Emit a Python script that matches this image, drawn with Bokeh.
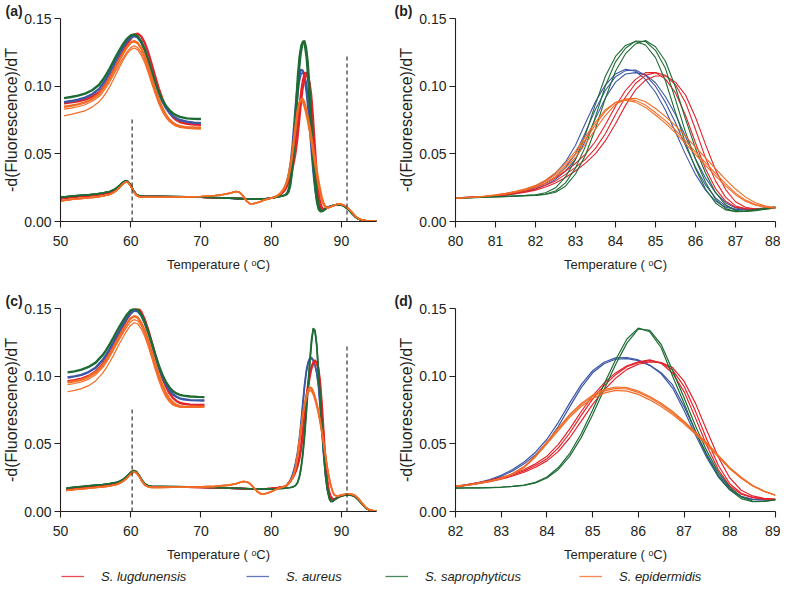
from bokeh.plotting import figure
from bokeh.models import Range1d, FixedTicker, NumeralTickFormatter, Legend, LegendItem
from bokeh.layouts import column, row
from bokeh.embed import file_html
from bokeh.resources import INLINE

FONT = "Liberation Sans"
INK = "#231f20"

species = ["S. lugdunensis", "S. aureus", "S. saprophyticus", "S. epidermidis"]
colors = ["#e3232b", "#3d57a7", "#1e6b35", "#f26c26"]

# ---------------- panel (b): 80-88 C, three replicates per species ----------------
b_T = [80.0, 80.25, 80.5, 80.75, 81.0, 81.25, 81.5, 81.75, 82.0, 82.25, 82.5, 82.75,
       83.0, 83.25, 83.5, 83.75, 84.0, 84.25, 84.5, 84.75, 85.0, 85.25, 85.5, 85.75,
       86.0, 86.25, 86.5, 86.75, 87.0, 87.25, 87.5, 87.75, 88.0]
b_lug_1 = [0.0174, 0.0178, 0.0182, 0.0187, 0.0194, 0.0204, 0.0217, 0.0232, 0.0253, 0.0283, 0.0323, 0.0373,
           0.0429, 0.0498, 0.0593, 0.0717, 0.0852, 0.0968, 0.1050, 0.1100, 0.1100, 0.1052, 0.0950, 0.0785,
           0.0580, 0.0390, 0.0243, 0.0150, 0.0106, 0.0093, 0.0092, 0.0098, 0.0104]
b_lug_2 = [0.0173, 0.0176, 0.0180, 0.0185, 0.0190, 0.0199, 0.0210, 0.0224, 0.0240, 0.0268, 0.0300, 0.0348,
           0.0400, 0.0460, 0.0540, 0.0650, 0.0790, 0.0920, 0.1020, 0.1080, 0.1100, 0.1080, 0.1010, 0.0880,
           0.0680, 0.0470, 0.0300, 0.0180, 0.0115, 0.0095, 0.0090, 0.0095, 0.0102]
b_lug_3 = [0.0173, 0.0175, 0.0178, 0.0183, 0.0188, 0.0195, 0.0205, 0.0217, 0.0232, 0.0255, 0.0285, 0.0325,
           0.0375, 0.0431, 0.0502, 0.0597, 0.0723, 0.0858, 0.0972, 0.1045, 0.1075, 0.1075, 0.1030, 0.0935,
           0.0770, 0.0570, 0.0380, 0.0238, 0.0146, 0.0105, 0.0092, 0.0093, 0.0099]
b_aur_1 = [0.0174, 0.0178, 0.0182, 0.0187, 0.0193, 0.0203, 0.0216, 0.0236, 0.0263, 0.0301, 0.0358, 0.0440,
           0.0564, 0.0728, 0.0886, 0.1010, 0.1090, 0.1125, 0.1110, 0.1050, 0.0955, 0.0822, 0.0662, 0.0496,
           0.0348, 0.0232, 0.0151, 0.0105, 0.0089, 0.0088, 0.0093, 0.0100, 0.0106]
b_aur_2 = [0.0173, 0.0176, 0.0180, 0.0185, 0.0190, 0.0198, 0.0210, 0.0226, 0.0250, 0.0282, 0.0330, 0.0400,
           0.0500, 0.0660, 0.0830, 0.0970, 0.1070, 0.1115, 0.1120, 0.1080, 0.1000, 0.0880, 0.0730, 0.0560,
           0.0400, 0.0270, 0.0175, 0.0115, 0.0090, 0.0087, 0.0090, 0.0097, 0.0104]
b_aur_3 = [0.0173, 0.0175, 0.0178, 0.0183, 0.0188, 0.0195, 0.0205, 0.0220, 0.0240, 0.0269, 0.0311, 0.0372,
           0.0460, 0.0596, 0.0762, 0.0914, 0.1030, 0.1090, 0.1100, 0.1085, 0.1025, 0.0922, 0.0790, 0.0628,
           0.0464, 0.0322, 0.0213, 0.0139, 0.0100, 0.0088, 0.0089, 0.0094, 0.0101]
b_sap_1 = [0.0174, 0.0176, 0.0178, 0.0181, 0.0184, 0.0186, 0.0189, 0.0193, 0.0198, 0.0212, 0.0249, 0.0329,
           0.0459, 0.0643, 0.0867, 0.1075, 0.1220, 0.1301, 0.1330, 0.1304, 0.1211, 0.1038, 0.0804, 0.0580,
           0.0392, 0.0240, 0.0137, 0.0086, 0.0074, 0.0079, 0.0088, 0.0099, 0.0108]
b_sap_2 = [0.0173, 0.0175, 0.0177, 0.0180, 0.0183, 0.0185, 0.0188, 0.0191, 0.0195, 0.0203, 0.0225, 0.0285,
           0.0395, 0.0555, 0.0775, 0.1005, 0.1180, 0.1280, 0.1333, 0.1330, 0.1265, 0.1130, 0.0900, 0.0660,
           0.0460, 0.0290, 0.0165, 0.0095, 0.0073, 0.0075, 0.0084, 0.0095, 0.0105]
b_sap_3 = [0.0173, 0.0174, 0.0176, 0.0179, 0.0182, 0.0184, 0.0187, 0.0190, 0.0193, 0.0200, 0.0216, 0.0261,
           0.0351, 0.0491, 0.0687, 0.0913, 0.1110, 0.1240, 0.1312, 0.1338, 0.1291, 0.1184, 0.0992, 0.0756,
           0.0540, 0.0358, 0.0215, 0.0123, 0.0082, 0.0074, 0.0080, 0.0091, 0.0101]
b_epi_1 = [0.0173, 0.0176, 0.0180, 0.0187, 0.0195, 0.0206, 0.0220, 0.0237, 0.0260, 0.0295, 0.0345, 0.0415,
           0.0500, 0.0605, 0.0715, 0.0815, 0.0880, 0.0905, 0.0895, 0.0860, 0.0805, 0.0745, 0.0675, 0.0595,
           0.0515, 0.0435, 0.0355, 0.0280, 0.0210, 0.0158, 0.0125, 0.0108, 0.0100]
b_epi_2 = [0.0173, 0.0175, 0.0179, 0.0185, 0.0192, 0.0202, 0.0216, 0.0232, 0.0253, 0.0284, 0.0329, 0.0393,
           0.0473, 0.0573, 0.0683, 0.0785, 0.0865, 0.0905, 0.0910, 0.0885, 0.0835, 0.0775, 0.0708, 0.0630,
           0.0550, 0.0470, 0.0390, 0.0312, 0.0240, 0.0180, 0.0138, 0.0114, 0.0103]
b_epi_3 = [0.0174, 0.0177, 0.0181, 0.0189, 0.0197, 0.0209, 0.0223, 0.0242, 0.0267, 0.0305, 0.0359, 0.0432,
           0.0521, 0.0627, 0.0735, 0.0826, 0.0880, 0.0897, 0.0882, 0.0843, 0.0787, 0.0725, 0.0655, 0.0575,
           0.0495, 0.0415, 0.0337, 0.0263, 0.0198, 0.0150, 0.0121, 0.0106, 0.0099]

# ---------------- panel (d): 82-89 C ----------------
d_T = [82.0, 82.25, 82.5, 82.75, 83.0, 83.25, 83.5, 83.75, 84.0, 84.25, 84.5, 84.75, 85.0, 85.25, 85.5,
       85.75, 86.0, 86.25, 86.5, 86.75, 87.0, 87.25, 87.5, 87.75, 88.0, 88.25, 88.5, 88.75, 89.0]
d_lug_1 = [0.0185, 0.0195, 0.0210, 0.0225, 0.0245, 0.0270, 0.0300, 0.0340, 0.0390, 0.0470, 0.0580, 0.0710,
           0.0830, 0.0930, 0.1010, 0.1070, 0.1100, 0.1115, 0.1100, 0.1045, 0.0925, 0.0740, 0.0530, 0.0340,
           0.0205, 0.0135, 0.0105, 0.0093, 0.0090]
d_lug_2 = [0.0184, 0.0192, 0.0205, 0.0220, 0.0239, 0.0262, 0.0290, 0.0327, 0.0374, 0.0444, 0.0545, 0.0668,
           0.0792, 0.0898, 0.0984, 0.1050, 0.1088, 0.1105, 0.1100, 0.1063, 0.0963, 0.0799, 0.0597, 0.0401,
           0.0248, 0.0157, 0.0115, 0.0097, 0.0091]
d_lug_3 = [0.0188, 0.0199, 0.0214, 0.0230, 0.0251, 0.0277, 0.0310, 0.0352, 0.0409, 0.0496, 0.0611, 0.0739,
           0.0854, 0.0949, 0.1024, 0.1077, 0.1106, 0.1120, 0.1095, 0.1022, 0.0886, 0.0690, 0.0484, 0.0308,
           0.0188, 0.0128, 0.0102, 0.0092, 0.0090]
d_aur_1 = [0.0180, 0.0195, 0.0210, 0.0230, 0.0260, 0.0300, 0.0352, 0.0420, 0.0510, 0.0630, 0.0775, 0.0915,
           0.1025, 0.1092, 0.1125, 0.1130, 0.1115, 0.1080, 0.1025, 0.0935, 0.0775, 0.0595, 0.0420, 0.0275,
           0.0170, 0.0112, 0.0090, 0.0086, 0.0088]
d_aur_2 = [0.0183, 0.0198, 0.0214, 0.0236, 0.0268, 0.0310, 0.0366, 0.0438, 0.0534, 0.0659, 0.0803, 0.0937,
           0.1040, 0.1103, 0.1135, 0.1138, 0.1120, 0.1080, 0.1017, 0.0912, 0.0747, 0.0565, 0.0395, 0.0255,
           0.0160, 0.0108, 0.0089, 0.0086, 0.0088]
d_sap_1 = [0.0173, 0.0174, 0.0175, 0.0177, 0.0180, 0.0186, 0.0195, 0.0215, 0.0255, 0.0325, 0.0430, 0.0575,
           0.0750, 0.0940, 0.1120, 0.1275, 0.1355, 0.1328, 0.1210, 0.1000, 0.0800, 0.0590, 0.0410, 0.0260,
           0.0160, 0.0095, 0.0072, 0.0075, 0.0087]
d_sap_2 = [0.0173, 0.0174, 0.0175, 0.0177, 0.0179, 0.0185, 0.0193, 0.0211, 0.0247, 0.0311, 0.0409, 0.0546,
           0.0715, 0.0902, 0.1084, 0.1244, 0.1350, 0.1338, 0.1234, 0.1042, 0.0840, 0.0632, 0.0446, 0.0290,
           0.0180, 0.0108, 0.0077, 0.0074, 0.0085]
d_epi_1 = [0.0187, 0.0195, 0.0210, 0.0225, 0.0245, 0.0280, 0.0330, 0.0410, 0.0510, 0.0610, 0.0710, 0.0790,
           0.0850, 0.0890, 0.0910, 0.0905, 0.0880, 0.0840, 0.0790, 0.0730, 0.0660, 0.0580, 0.0500, 0.0410,
           0.0320, 0.0250, 0.0190, 0.0150, 0.0120]
d_epi_2 = [0.0187, 0.0195, 0.0210, 0.0225, 0.0245, 0.0281, 0.0332, 0.0413, 0.0515, 0.0617, 0.0718, 0.0799,
           0.0860, 0.0900, 0.0920, 0.0915, 0.0890, 0.0850, 0.0800, 0.0739, 0.0668, 0.0587, 0.0506, 0.0415,
           0.0324, 0.0253, 0.0192, 0.0151, 0.0120]
d_epi_3 = [0.0186, 0.0194, 0.0208, 0.0223, 0.0242, 0.0276, 0.0325, 0.0403, 0.0500, 0.0598, 0.0697, 0.0776,
           0.0835, 0.0875, 0.0895, 0.0890, 0.0865, 0.0825, 0.0776, 0.0717, 0.0648, 0.0570, 0.0491, 0.0404,
           0.0315, 0.0246, 0.0188, 0.0149, 0.0120]

# ---------------- panel (a): outside the 80-88 window ----------------
a_left_T = [50, 51, 52, 53, 54, 55, 56, 57, 57.5, 58, 58.5, 59, 59.3, 59.6, 60, 60.4, 60.8, 61.2, 61.6, 62,
            63, 64, 66, 68, 70, 72, 73, 74, 74.5, 75, 75.5, 76, 76.5, 77, 77.5, 78, 78.5, 79, 79.5]
a_left_lug = [0.0168, 0.0175, 0.0181, 0.0186, 0.0190, 0.0195, 0.0202, 0.0214, 0.0225, 0.0241, 0.0264, 0.0289,
              0.0298, 0.0293, 0.0266, 0.0226, 0.0198, 0.0188, 0.0185, 0.0184, 0.0184, 0.0184, 0.0183, 0.0181,
              0.0179, 0.0176, 0.0175, 0.0173, 0.0172, 0.0171, 0.0170, 0.0169, 0.0168, 0.0167, 0.0166, 0.0166,
              0.0166, 0.0167, 0.0170]
a_left_aur = [0.0171, 0.0178, 0.0184, 0.0189, 0.0193, 0.0198, 0.0205, 0.0217, 0.0228, 0.0244, 0.0267, 0.0291,
              0.0300, 0.0294, 0.0267, 0.0227, 0.0199, 0.0189, 0.0186, 0.0185, 0.0184, 0.0184, 0.0183, 0.0181,
              0.0179, 0.0176, 0.0174, 0.0172, 0.0171, 0.0170, 0.0169, 0.0168, 0.0167, 0.0166, 0.0166, 0.0166,
              0.0166, 0.0167, 0.0170]
a_left_sap = [0.0179, 0.0185, 0.0190, 0.0194, 0.0198, 0.0203, 0.0210, 0.0222, 0.0232, 0.0248, 0.0270, 0.0294,
              0.0302, 0.0296, 0.0268, 0.0228, 0.0200, 0.0190, 0.0187, 0.0186, 0.0185, 0.0185, 0.0184, 0.0182,
              0.0180, 0.0177, 0.0175, 0.0173, 0.0172, 0.0170, 0.0169, 0.0168, 0.0167, 0.0166, 0.0165, 0.0165,
              0.0165, 0.0166, 0.0169]
a_left_epi = [0.0152, 0.0160, 0.0166, 0.0171, 0.0175, 0.0180, 0.0188, 0.0200, 0.0212, 0.0230, 0.0255, 0.0282,
              0.0292, 0.0288, 0.0262, 0.0222, 0.0194, 0.0183, 0.0180, 0.0179, 0.0179, 0.0179, 0.0180, 0.0182,
              0.0185, 0.0192, 0.0198, 0.0208, 0.0215, 0.0221, 0.0215, 0.0190, 0.0150, 0.0131, 0.0132, 0.0139,
              0.0148, 0.0158, 0.0166]
a_right_T = [88.5, 89, 89.5, 90, 90.5, 91, 91.5, 92, 92.5, 93, 93.5, 94, 95]
a_right_lug = [0.0110, 0.0120, 0.0127, 0.0124, 0.0112, 0.0092, 0.0064, 0.0036, 0.0018, 0.0010, 0.0006, 0.0005, 0.0005]
a_right_aur = [0.0112, 0.0121, 0.0126, 0.0122, 0.0110, 0.0090, 0.0062, 0.0035, 0.0017, 0.0009, 0.0006, 0.0005, 0.0005]
a_right_sap = [0.0113, 0.0122, 0.0126, 0.0121, 0.0108, 0.0088, 0.0060, 0.0033, 0.0016, 0.0009, 0.0006, 0.0005, 0.0005]
a_right_epi = [0.0108, 0.0120, 0.0129, 0.0128, 0.0117, 0.0096, 0.0068, 0.0040, 0.0020, 0.0011, 0.0007, 0.0005, 0.0005]

# ---------------- panel (c): outside the 82-89 window ----------------
c_left_T = [50.8, 52, 53, 54, 55, 56, 57, 58, 58.5, 59, 59.5, 60, 60.4, 60.8, 61.2, 61.6, 62, 62.5, 63, 64,
            66, 68, 70, 72, 74, 75, 75.5, 76, 76.5, 77, 77.5, 78, 78.5, 79, 79.5, 80, 80.5, 81, 81.5]
c_left_lug = [0.0163, 0.0172, 0.0178, 0.0183, 0.0188, 0.0193, 0.0199, 0.0209, 0.0219, 0.0234, 0.0256, 0.0283,
              0.0297, 0.0290, 0.0263, 0.0228, 0.0201, 0.0187, 0.0183, 0.0183, 0.0182, 0.0180, 0.0178, 0.0176,
              0.0173, 0.0171, 0.0170, 0.0169, 0.0168, 0.0168, 0.0167, 0.0167, 0.0167, 0.0168, 0.0169, 0.0171,
              0.0174, 0.0177, 0.0181]
c_left_aur = [0.0167, 0.0176, 0.0181, 0.0186, 0.0191, 0.0196, 0.0202, 0.0212, 0.0222, 0.0237, 0.0259, 0.0286,
              0.0300, 0.0292, 0.0265, 0.0229, 0.0202, 0.0188, 0.0184, 0.0184, 0.0183, 0.0181, 0.0179, 0.0176,
              0.0173, 0.0171, 0.0170, 0.0169, 0.0168, 0.0167, 0.0166, 0.0166, 0.0166, 0.0166, 0.0167, 0.0168,
              0.0170, 0.0173, 0.0176]
c_left_sap = [0.0172, 0.0180, 0.0185, 0.0190, 0.0195, 0.0200, 0.0206, 0.0216, 0.0226, 0.0241, 0.0263, 0.0290,
              0.0303, 0.0295, 0.0268, 0.0232, 0.0205, 0.0190, 0.0186, 0.0185, 0.0184, 0.0182, 0.0180, 0.0177,
              0.0174, 0.0172, 0.0171, 0.0170, 0.0169, 0.0168, 0.0167, 0.0166, 0.0166, 0.0165, 0.0165, 0.0165,
              0.0166, 0.0168, 0.0170]
c_left_epi = [0.0155, 0.0162, 0.0167, 0.0172, 0.0177, 0.0182, 0.0189, 0.0199, 0.0210, 0.0226, 0.0249, 0.0277,
              0.0292, 0.0286, 0.0260, 0.0224, 0.0196, 0.0182, 0.0178, 0.0178, 0.0179, 0.0180, 0.0182, 0.0186,
              0.0195, 0.0205, 0.0215, 0.0222, 0.0220, 0.0205, 0.0178, 0.0148, 0.0131, 0.0130, 0.0136, 0.0146,
              0.0158, 0.0170, 0.0180]
c_right_T = [89.5, 90, 90.5, 91, 91.5, 92, 92.5, 93, 93.5, 94, 94.5, 95]
c_right_lug = [0.0104, 0.0116, 0.0123, 0.0126, 0.0122, 0.0110, 0.0086, 0.0054, 0.0026, 0.0012, 0.0006, 0.0005]
c_right_aur = [0.0105, 0.0117, 0.0123, 0.0125, 0.0121, 0.0108, 0.0084, 0.0052, 0.0025, 0.0011, 0.0006, 0.0005]
c_right_sap = [0.0103, 0.0115, 0.0121, 0.0123, 0.0119, 0.0106, 0.0082, 0.0050, 0.0024, 0.0011, 0.0006, 0.0005]
c_right_epi = [0.0115, 0.0122, 0.0128, 0.0131, 0.0128, 0.0116, 0.0092, 0.0058, 0.0029, 0.0013, 0.0007, 0.0005]

# ---------------- insets (magnified peaks drawn in the upper-left of (a) and (c)) ----------------
ins_a_T = [50.5, 51.5, 52.5, 53.5, 54.5, 55.5, 56.0, 56.5, 57.0, 57.5, 58.0, 58.5, 59.0, 59.5, 60.0, 60.5,
           61.0, 61.5, 62.0, 62.5, 63.0, 63.5, 64.0, 64.5, 65.0, 65.5, 66.0, 66.5, 67.0, 68.0, 69.0, 70.0]
ins_a_lug = [0.0873, 0.0880, 0.0888, 0.0900, 0.0922, 0.0955, 0.0985, 0.1022, 0.1065, 0.1113, 0.1165, 0.1217,
             0.1267, 0.1312, 0.1350, 0.1380, 0.1388, 0.1368, 0.1320, 0.1248, 0.1160, 0.1068, 0.0982, 0.0908,
             0.0850, 0.0805, 0.0772, 0.0750, 0.0735, 0.0722, 0.0717, 0.0715]
ins_a_aur = [0.0882, 0.0890, 0.0900, 0.0915, 0.0940, 0.0980, 0.1015, 0.1055, 0.1100, 0.1150, 0.1202, 0.1250,
             0.1296, 0.1333, 0.1360, 0.1370, 0.1360, 0.1325, 0.1268, 0.1190, 0.1105, 0.1022, 0.0948, 0.0887,
             0.0840, 0.0805, 0.0780, 0.0762, 0.0750, 0.0737, 0.0730, 0.0727]
ins_a_sap = [0.0912, 0.0920, 0.0930, 0.0945, 0.0970, 0.1010, 0.1045, 0.1085, 0.1130, 0.1180, 0.1230, 0.1275,
             0.1318, 0.1352, 0.1375, 0.1382, 0.1368, 0.1330, 0.1270, 0.1190, 0.1105, 0.1025, 0.0955, 0.0898,
             0.0855, 0.0823, 0.0800, 0.0784, 0.0773, 0.0762, 0.0758, 0.0757]
ins_a_epi_1 = [0.0848, 0.0855, 0.0865, 0.0880, 0.0905, 0.0942, 0.0975, 0.1013, 0.1057, 0.1105, 0.1155, 0.1203,
               0.1250, 0.1290, 0.1322, 0.1333, 0.1318, 0.1280, 0.1220, 0.1143, 0.1058, 0.0975, 0.0900, 0.0838,
               0.0790, 0.0752, 0.0727, 0.0710, 0.0700, 0.0692, 0.0688, 0.0687]
ins_a_epi_2 = [0.0830, 0.0838, 0.0848, 0.0863, 0.0888, 0.0923, 0.0953, 0.0990, 0.1032, 0.1078, 0.1126, 0.1172,
               0.1215, 0.1255, 0.1285, 0.1298, 0.1285, 0.1248, 0.1190, 0.1115, 0.1035, 0.0958, 0.0888, 0.0830,
               0.0787, 0.0755, 0.0733, 0.0718, 0.0708, 0.0700, 0.0697, 0.0696]
ins_a_epi_3 = [0.0780, 0.0792, 0.0805, 0.0818, 0.0845, 0.0885, 0.0915, 0.0952, 0.0995, 0.1045, 0.1098, 0.1150,
               0.1200, 0.1240, 0.1270, 0.1282, 0.1268, 0.1230, 0.1172, 0.1098, 0.1018, 0.0940, 0.0870, 0.0812,
               0.0768, 0.0738, 0.0718, 0.0706, 0.0700, 0.0697, 0.0697, 0.0698]

ins_c_T = [51.0, 52.0, 53.0, 54.0, 55.0, 56.0, 56.5, 57.0, 57.5, 58.0, 58.5, 59.0, 59.5, 60.0, 60.5, 61.0,
           61.5, 62.0, 62.5, 63.0, 63.5, 64.0, 64.5, 65.0, 65.5, 66.0, 66.5, 67.0, 67.5, 68.5, 69.5, 70.5]
ins_c_lug = [0.0962, 0.0970, 0.0982, 0.1002, 0.1035, 0.1090, 0.1130, 0.1175, 0.1225, 0.1277, 0.1328, 0.1377,
             0.1425, 0.1465, 0.1500, 0.1505, 0.1475, 0.1418, 0.1340, 0.1250, 0.1155, 0.1065, 0.0988, 0.0925,
             0.0875, 0.0840, 0.0817, 0.0803, 0.0796, 0.0790, 0.0788, 0.0787]
ins_c_aur = [0.0990, 0.0998, 0.1010, 0.1030, 0.1063, 0.1118, 0.1157, 0.1200, 0.1248, 0.1298, 0.1345, 0.1390,
             0.1433, 0.1465, 0.1485, 0.1480, 0.1448, 0.1393, 0.1320, 0.1235, 0.1148, 0.1065, 0.0995, 0.0940,
             0.0897, 0.0867, 0.0848, 0.0836, 0.0829, 0.0823, 0.0821, 0.0820]
ins_c_sap = [0.1028, 0.1035, 0.1048, 0.1068, 0.1100, 0.1155, 0.1192, 0.1235, 0.1282, 0.1330, 0.1375, 0.1418,
             0.1458, 0.1487, 0.1500, 0.1490, 0.1455, 0.1400, 0.1328, 0.1245, 0.1160, 0.1080, 0.1012, 0.0958,
             0.0918, 0.0890, 0.0872, 0.0862, 0.0856, 0.0850, 0.0847, 0.0845]
ins_c_epi_1 = [0.0955, 0.0962, 0.0975, 0.0995, 0.1028, 0.1082, 0.1120, 0.1163, 0.1210, 0.1258, 0.1305, 0.1350,
               0.1392, 0.1428, 0.1443, 0.1432, 0.1395, 0.1338, 0.1262, 0.1177, 0.1090, 0.1008, 0.0937, 0.0878,
               0.0835, 0.0805, 0.0787, 0.0778, 0.0774, 0.0773, 0.0774, 0.0775]
ins_c_epi_2 = [0.0938, 0.0946, 0.0958, 0.0978, 0.1010, 0.1063, 0.1100, 0.1142, 0.1188, 0.1236, 0.1283, 0.1327,
               0.1367, 0.1402, 0.1418, 0.1408, 0.1372, 0.1315, 0.1240, 0.1155, 0.1068, 0.0988, 0.0918, 0.0862,
               0.0822, 0.0795, 0.0780, 0.0773, 0.0771, 0.0771, 0.0773, 0.0775]
ins_c_epi_3 = [0.0885, 0.0895, 0.0908, 0.0930, 0.0965, 0.1022, 0.1060, 0.1103, 0.1150, 0.1200, 0.1250, 0.1297,
               0.1340, 0.1377, 0.1395, 0.1385, 0.1350, 0.1293, 0.1218, 0.1133, 0.1047, 0.0968, 0.0900, 0.0847,
               0.0810, 0.0787, 0.0776, 0.0771, 0.0770, 0.0771, 0.0773, 0.0776]

# dashed marker lines (temperature, height)
vline_a_T = [60.2, 90.8]
vline_a_top = [0.0775, 0.123]
vline_c_T = [60.2, 90.8]
vline_c_top = [0.0771, 0.123]

y_ticks = [0.0, 0.05, 0.10, 0.15]
x_ticks_ac = [50, 60, 70, 80, 90]
x_ticks_b = [80, 81, 82, 83, 84, 85, 86, 87, 88]
x_ticks_d = [82, 83, 84, 85, 86, 87, 88, 89]
x_label = "Temperature ( \u1d52C)"
y_label = "-d(Fluorescence)/dT"

RED, BLUE, GREEN, ORANGE = colors


def make_fig(tag, tag_offset, w, h, left, right, bottom, xr, xticks):
    p = figure(width=w, height=h, x_range=Range1d(*xr), y_range=Range1d(0, 0.15),
               output_backend="svg", toolbar_location=None, title=tag,
               min_border_left=left, min_border_right=right, min_border_top=0,
               min_border_bottom=bottom)
    p.title.align = "left"
    p.title.offset = tag_offset
    p.title.standoff = 0
    p.title.text_font = FONT
    p.title.text_font_size = "14px"
    p.title.text_font_style = "bold"
    p.title.text_color = INK
    p.xaxis.ticker = FixedTicker(ticks=xticks)
    p.yaxis.ticker = FixedTicker(ticks=y_ticks)
    p.yaxis.formatter = NumeralTickFormatter(format="0.00")
    for ax in p.axis:
        ax.axis_line_color = INK
        ax.axis_line_width = 1.1
        ax.major_tick_line_color = INK
        ax.major_tick_line_width = 1.1
        ax.major_tick_out = 6
        ax.major_tick_in = 0
        ax.minor_tick_line_color = None
        ax.major_label_text_font = FONT
        ax.major_label_text_font_size = "14px"
        ax.major_label_text_color = INK
        ax.axis_label_text_font = FONT
        ax.axis_label_text_font_style = "normal"
        ax.axis_label_text_color = INK
    p.xaxis.major_label_standoff = 8
    p.yaxis.major_label_standoff = 3
    p.xaxis.axis_label = x_label
    p.xaxis.axis_label_text_font_size = "13px"
    p.xaxis.axis_label_standoff = 8
    p.yaxis.axis_label = y_label
    p.yaxis.axis_label_text_font_size = "16px"
    p.yaxis.axis_label_standoff = 1
    p.xgrid.visible = False
    p.ygrid.visible = False
    p.outline_line_color = None
    p.background_fill_color = "white"
    p.border_fill_color = "white"
    return p


# ---------- (a) ----------
pa = make_fig("(a)", -55, 385, 290, 56, 9, 69, (50, 95), x_ticks_ac)
a_x = a_left_T + b_T + a_right_T
for reps, left, right, col in [((b_aur_1, b_aur_2, b_aur_3), a_left_aur, a_right_aur, BLUE),
                               ((b_lug_1, b_lug_2, b_lug_3), a_left_lug, a_right_lug, RED),
                               ((b_sap_1, b_sap_2, b_sap_3), a_left_sap, a_right_sap, GREEN),
                               ((b_epi_1, b_epi_2, b_epi_3), a_left_epi, a_right_epi, ORANGE)]:
    for r in reps:
        pa.line(a_x, left + r + right, line_color=col, line_width=1.6)
for ys, col, lw in [(ins_a_lug, RED, 2.4), (ins_a_aur, BLUE, 2.4), (ins_a_sap, GREEN, 2.4),
                    (ins_a_epi_3, ORANGE, 1.2), (ins_a_epi_2, ORANGE, 1.2), (ins_a_epi_1, ORANGE, 2.4)]:
    pa.line(ins_a_T, ys, line_color=col, line_width=lw)
pa.segment(x0=vline_a_T, y0=[0, 0], x1=vline_a_T, y1=vline_a_top, line_color="#333333",
           line_width=1.2, line_dash="4 3")

# ---------- (b) ----------
pb = make_fig("(b)", -61, 395, 290, 70, 5, 69, (80, 88), x_ticks_b)
for reps, col in [((b_aur_1, b_aur_2, b_aur_3), BLUE), ((b_lug_1, b_lug_2, b_lug_3), RED),
                  ((b_sap_1, b_sap_2, b_sap_3), GREEN), ((b_epi_1, b_epi_2, b_epi_3), ORANGE)]:
    for r in reps:
        pb.line(b_T, r, line_color=col, line_width=1.1)

# ---------- (c) ----------
pc = make_fig("(c)", -55, 385, 277, 56, 9, 56, (50, 95), x_ticks_ac)
c_x = c_left_T + d_T + c_right_T
for reps, left, right, col in [((d_aur_1, d_aur_2), c_left_aur, c_right_aur, BLUE),
                               ((d_lug_1, d_lug_2, d_lug_3), c_left_lug, c_right_lug, RED),
                               ((d_sap_1, d_sap_2), c_left_sap, c_right_sap, GREEN),
                               ((d_epi_1, d_epi_2, d_epi_3), c_left_epi, c_right_epi, ORANGE)]:
    for r in reps:
        pc.line(c_x, left + r + right, line_color=col, line_width=1.6)
for ys, col, lw in [(ins_c_lug, RED, 2.4), (ins_c_aur, BLUE, 2.4), (ins_c_sap, GREEN, 2.4),
                    (ins_c_epi_3, ORANGE, 1.2), (ins_c_epi_2, ORANGE, 1.2), (ins_c_epi_1, ORANGE, 2.4)]:
    pc.line(ins_c_T, ys, line_color=col, line_width=lw)
pc.segment(x0=vline_c_T, y0=[0, 0], x1=vline_c_T, y1=vline_c_top, line_color="#333333",
           line_width=1.2, line_dash="4 3")

# ---------- (d) ----------
pd = make_fig("(d)", -61, 395, 277, 70, 5, 56, (82, 89), x_ticks_d)
for reps, col in [((d_aur_1, d_aur_2), BLUE), ((d_lug_1, d_lug_2, d_lug_3), RED),
                  ((d_sap_1, d_sap_2), GREEN), ((d_epi_1, d_epi_2, d_epi_3), ORANGE)]:
    for r in reps:
        pd.line(d_T, r, line_color=col, line_width=1.2)

# ---------- legend strip ----------
pl = figure(width=780, height=18, x_range=Range1d(0, 1), y_range=Range1d(0, 1),
            output_backend="svg", toolbar_location=None, title=None,
            x_axis_location=None, y_axis_location=None, min_border=0)
pl.grid.visible = False
pl.outline_line_color = None
legend_x = [61, 246, 385, 579]
for name, col, lx in zip(species, colors, legend_x):
    # key renderer: its points lie outside the visible range, only the legend swatch shows
    r = pl.line(x=[5, 6], y=[5, 6], line_color=col, line_width=1.3, line_alpha=0.8)
    lg = Legend(items=[LegendItem(label=name, renderers=[r])], location=(lx, 0),
                orientation="horizontal", glyph_width=23, glyph_height=18, label_height=18,
                label_standoff=17, padding=0, margin=0, border_line_color=None,
                background_fill_alpha=0, label_text_font=FONT, label_text_font_size="13px",
                label_text_font_style="italic", label_text_color=INK)
    pl.add_layout(lg)

layout = column(row(pa, pb), row(pc, pd), pl)
open("out.html", "w").write(file_html(layout, INLINE))
